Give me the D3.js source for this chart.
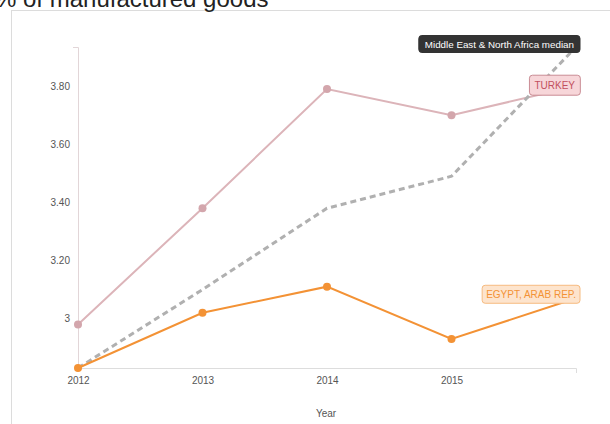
<!DOCTYPE html>
<html>
<head>
<meta charset="utf-8">
<script src="https://cdn.jsdelivr.net/npm/d3@7"></script>
<style>
  body { margin: 0; background: #fff; }
  svg { display: block; }
  text { font-family: "Liberation Sans", Arial, sans-serif; }
</style>
</head>
<body>
<svg id="chart" width="610" height="424"></svg>
<script>
const years = [2012, 2013, 2014, 2015, 2016];
const xTickYears = [2012, 2013, 2014, 2015];
const yTicks = [3, 3.2, 3.4, 3.6, 3.8];
const turkey = [2.98, 3.38, 3.79, 3.70, 3.80];
const egypt = [2.83, 3.02, 3.11, 2.93, 3.07];
const median = [2.83, 3.10, 3.38, 3.49, 3.935];

const svg = d3.select('#chart');

// frame + title (sits partly above the top edge, as in the source)
svg.append('rect')
    .attr('x', 11.5).attr('y', 10.5)
    .attr('width', 640).attr('height', 440)
    .attr('fill', '#fff').attr('stroke', '#dcdcdc');
svg.append('text')
    .attr('x', -5).attr('y', 7)
    .attr('font-family', '"Noto Sans", sans-serif')
    .attr('font-size', 24).attr('fill', '#222')
    .text('% of manufactured goods');

const x = d3.scaleLinear().domain([2012, 2016]).range([78, 576]);
const all = turkey.concat(egypt, median);
const y = d3.scaleLinear().domain(d3.extent(all)).range([368, 47]);

// axes
const xAxis = svg.append('g')
    .attr('transform', 'translate(0,368)')
    .call(d3.axisBottom(x).tickValues(xTickYears).tickFormat(d3.format('d')).tickSize(0).tickPadding(9));
xAxis.select('.domain').attr('stroke', '#ddd').attr('d', 'M78,0.5H576.5V5');
xAxis.selectAll('text').attr('fill', '#555').attr('font-size', 10).attr('font-family', '"Liberation Sans", Arial, sans-serif');

const yAxis = svg.append('g')
    .attr('transform', 'translate(78,0)')
    .call(d3.axisLeft(y).tickValues(yTicks)
        .tickFormat(d => d === 3 ? '3' : d3.format('.2f')(d))
        .tickSize(0).tickPadding(8));
yAxis.select('.domain').attr('stroke', '#e2d6d8').attr('d', 'M-5,47.5H0.5V368');
yAxis.selectAll('text').attr('fill', '#555').attr('font-size', 10).attr('font-family', '"Liberation Sans", Arial, sans-serif');

svg.append('text')
    .attr('x', 326).attr('y', 417)
    .attr('text-anchor', 'middle')
    .attr('font-size', 10).attr('fill', '#555')
    .text('Year');

const line = d3.line().x((d, i) => x(years[i])).y(d => y(d));

// Turkey
svg.append('path').datum(turkey)
    .attr('d', line).attr('fill', 'none')
    .attr('stroke', '#dcb4b9').attr('stroke-width', 2);
svg.selectAll('circle.tr').data(turkey).enter().append('circle')
    .attr('class', 'tr')
    .attr('cx', (d, i) => x(years[i])).attr('cy', d => y(d))
    .attr('r', 4).attr('fill', '#d3a6ac');

// median
svg.append('path').datum(median)
    .attr('d', line).attr('fill', 'none')
    .attr('stroke', '#b0b0b0').attr('stroke-width', 3)
    .attr('stroke-dasharray', '6,4');

// Egypt
svg.append('path').datum(egypt)
    .attr('d', line).attr('fill', 'none')
    .attr('stroke', '#f39235').attr('stroke-width', 2);
svg.selectAll('circle.eg').data(egypt).enter().append('circle')
    .attr('class', 'eg')
    .attr('cx', (d, i) => x(years[i])).attr('cy', d => y(d))
    .attr('r', 4).attr('fill', '#f39235');

// end labels, right-aligned next to the last point
function endLabel (name, value, opts) {
    const g = svg.append('g');
    const t = g.append('text')
        .attr('font-size', opts.size)
        .attr('font-weight', opts.weight || 'normal')
        .attr('fill', opts.color)
        .attr('text-anchor', 'end')
        .attr('dominant-baseline', 'central')
        .attr('x', 580 - opts.padX)
        .attr('y', y(value) + opts.dy)
        .text(name);
    const b = t.node().getBBox();
    g.insert('rect', 'text')
        .attr('x', b.x - opts.padX).attr('y', y(value) + opts.dy - opts.h / 2)
        .attr('width', b.width + opts.padX * 2).attr('height', opts.h)
        .attr('rx', 3)
        .attr('fill', opts.fill).attr('stroke', opts.stroke);
}

endLabel('TURKEY', turkey[4], { size: 10, color: '#c2505e', fill: '#f7d6d9', stroke: '#c98c94', padX: 5, h: 20, dy: -1 });
endLabel('EGYPT, ARAB REP.', egypt[4], { size: 10, color: '#f39235', fill: '#fde4cd', stroke: '#f6bb80', padX: 4, h: 18, dy: -4 });
endLabel('Middle East & North Africa median', median[4], { size: 9.8, color: '#fff', fill: '#333', stroke: '#333', padX: 6, h: 17, dy: -3 });
</script>
</body>
</html>
